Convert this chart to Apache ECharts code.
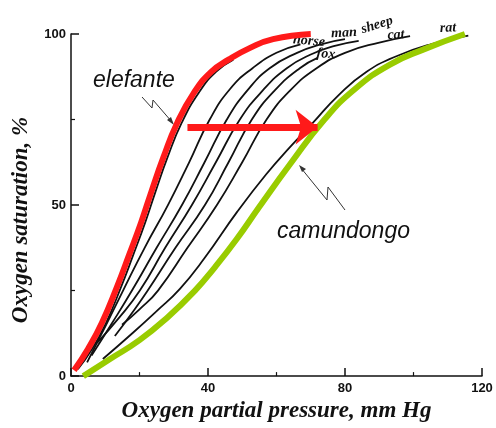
<!DOCTYPE html>
<html>
<head>
<meta charset="utf-8">
<script src="https://cdn.jsdelivr.net/npm/echarts@6/dist/echarts.min.js"></script>
<style>
  html, body { margin: 0; padding: 0; background: #fff; }
  #chart { width: 496px; height: 428px; }
</style>
</head>
<body>
<div id="chart"></div>
<script>
// curves: [pressure mmHg, saturation %]
const elefante = [[0.9,1.7],[5,8],[9,15.5],[13.4,26],[17,35.5],[20.5,45],[23.5,54],[27,64],[31,74],[36,83],[41,89],[46,92.5],[52,95.8],[59,98.5],[70,100]];
const elefanteBlack = [[2,2],[6.2,8],[10.2,15.5],[14.6,26],[18.2,35.5],[21.7,45],[24.7,54],[28.2,64],[32.3,74],[37.4,83],[42.4,89],[47.4,92.5]];
const horse = [[4.7,4],[10,14.5],[15.2,25],[21.5,37.5],[28.3,50],[34.5,62.5],[40.5,75],[46.5,84],[53,90],[60,94.5],[67,97]];
const man = [[6,6],[12,15.5],[17.8,25],[25,37.5],[32.4,50],[39,62.5],[45.5,75],[51.5,83.5],[58,90],[66,94.5],[73,97],[80,98.5]];
const sheep = [[7.6,9.7],[14,17],[20.1,25],[27.5,37.5],[35.3,50],[42.3,62.5],[49.3,75],[56,83.5],[63,90],[70,94],[77,96.5],[84,98]];
const fox = [[12.8,11.7],[17.5,18],[22.4,25],[30.5,37.5],[39.1,50],[46,62.5],[52.8,75],[59.5,83.5],[66.8,90],[72,93]];
const cat = [[14.9,15],[20,19.5],[25.4,25],[34,37.5],[42.6,50],[50,62.5],[57.1,75],[64,83.5],[71.7,90],[80,94.5],[90,97.5],[99,99.4]];
const rat = [[9.3,5],[18,12.6],[25,19],[31.8,25.5],[39,34.5],[48.5,48],[57,59],[64,67],[70.6,74],[78,82],[86.3,89],[95,93.5],[105,97],[116,99.5]];
const camundongo = [[3.6,0],[11.4,5],[20,10.5],[28,17],[36.2,25],[42,31.8],[48.5,40.2],[55,49.5],[64,62],[74,75],[83,84],[93,91],[103,95.5],[115,100]];
const arrowFrom = [34, 72.8];
const arrowTo = [72, 72.8];

const xTicks = ['0', '40', '80', '120'];
const yTicks = ['0', '50', '100'];

const chart = echarts.init(document.getElementById('chart'), null, { renderer: 'canvas' });

// thin black curve
function blackLine(name, data) {
  return {
    name: name, type: 'line', data: data, smooth: 0.5, showSymbol: false, silent: true,
    lineStyle: { color: '#111', width: 1.8 }, z: 2
  };
}

const serif = "'Liberation Serif', 'DejaVu Serif', serif";
const sans = "'Liberation Sans', Arial, sans-serif";

const option = {
  animation: false,
  grid: { left: 71, right: 14, top: 34, bottom: 44 },
  xAxis: {
    type: 'value', min: 0, max: 120, interval: 40,
    name: 'Oxygen partial pressure, mm Hg', nameLocation: 'middle', nameGap: 14,
    nameTextStyle: { fontFamily: serif, fontWeight: 'bold', fontStyle: 'italic', fontSize: 23, color: '#111' },
    axisLine: { lineStyle: { color: '#111', width: 1.5 } },
    axisTick: { inside: true, length: 8, lineStyle: { color: '#111', width: 1.5 } },
    minorTick: { show: true, splitNumber: 2, length: 4, lineStyle: { color: '#111', width: 1.2 } },
    axisLabel: { fontFamily: sans, fontWeight: 'bold', fontSize: 13, color: '#111', margin: 6,
      formatter: v => xTicks.includes(String(v)) ? String(v) : '' },
    splitLine: { show: false }
  },
  yAxis: {
    type: 'value', min: 0, max: 100, interval: 50,
    axisLine: { show: true, lineStyle: { color: '#111', width: 1.5 } },
    axisTick: { show: true, inside: true, length: 8, lineStyle: { color: '#111', width: 1.5 } },
    minorTick: { show: true, splitNumber: 2, length: 4, lineStyle: { color: '#111', width: 1.2 } },
    axisLabel: { fontFamily: sans, fontWeight: 'bold', fontSize: 13, color: '#111', margin: 5,
      formatter: v => yTicks.includes(String(v)) ? String(v) : '' },
    splitLine: { show: false }
  },
  series: [
    blackLine('elefante-black', elefanteBlack),
    blackLine('horse', horse),
    blackLine('man', man),
    blackLine('sheep', sheep),
    blackLine('fox', fox),
    blackLine('cat', cat),
    blackLine('rat', rat),
    {
      name: 'elefante', type: 'line', data: elefante, smooth: 0.5, showSymbol: false,
      lineStyle: { color: '#ff1a1a', width: 6 }, z: 3,
      markLine: {
        silent: true, symbol: ['none', 'arrow'], symbolSize: [26, 22],
        label: { show: false },
        lineStyle: { color: '#ff1a1a', width: 7, type: 'solid' },
        data: [[{ coord: arrowFrom }, { coord: arrowTo }]]
      }
    },
    {
      name: 'camundongo', type: 'line', data: camundongo, smooth: 0.5, showSymbol: false,
      lineStyle: { color: '#99cc00', width: 6 }, z: 3
    }
  ],
  graphic: [
    { type: 'text', x: 21, y: 220, rotation: Math.PI / 2,
      style: { text: 'Oxygen saturation, %', font: "italic bold 23px 'Liberation Serif'", fill: '#111', align: 'center', verticalAlign: 'middle' } },
    { type: 'text', x: 93, y: 81,
      style: { text: 'elefante', font: "italic 23px 'Liberation Sans'", fill: '#111', verticalAlign: 'middle' } },
    { type: 'text', x: 277, y: 232,
      style: { text: 'camundongo', font: "italic 23px 'Liberation Sans'", fill: '#111', verticalAlign: 'middle' } },
    // zigzag pointers
    { type: 'polyline', shape: { points: [[142, 97], [152, 108], [153, 100], [172, 122]] },
      style: { stroke: '#333', lineWidth: 1, fill: null } },
    { type: 'polygon', shape: { points: [[174, 125], [167, 120], [171, 117]] }, style: { fill: '#333' } },
    { type: 'polyline', shape: { points: [[345, 210], [328, 187], [327, 200], [301, 168]] },
      style: { stroke: '#333', lineWidth: 1, fill: null } },
    { type: 'polygon', shape: { points: [[299, 165], [306, 169], [302, 172]] }, style: { fill: '#333' } },
    // species labels
    { type: 'text', x: 309, y: 41, rotation: -0.08,
      style: { text: 'horse', font: "italic bold 14px 'Liberation Serif'", fill: '#111', align: 'center', verticalAlign: 'middle' } },
    { type: 'text', x: 344, y: 33, rotation: 0.05,
      style: { text: 'man', font: "italic bold 14px 'Liberation Serif'", fill: '#111', align: 'center', verticalAlign: 'middle' } },
    { type: 'text', x: 377, y: 25, rotation: 0.3,
      style: { text: 'sheep', font: "italic bold 14px 'Liberation Serif'", fill: '#111', align: 'center', verticalAlign: 'middle' } },
    { type: 'text', x: 396, y: 35, rotation: 0.05,
      style: { text: 'cat', font: "italic bold 14px 'Liberation Serif'", fill: '#111', align: 'center', verticalAlign: 'middle' } },
    { type: 'text', x: 326, y: 54, rotation: -0.1,
      style: { text: 'fox', font: "italic bold 14px 'Liberation Serif'", fill: '#111', align: 'center', verticalAlign: 'middle' } },
    { type: 'text', x: 448, y: 28, rotation: 0.05,
      style: { text: 'rat', font: "italic bold 14px 'Liberation Serif'", fill: '#111', align: 'center', verticalAlign: 'middle' } }
  ]
};

chart.setOption(option);
</script>
</body>
</html>
